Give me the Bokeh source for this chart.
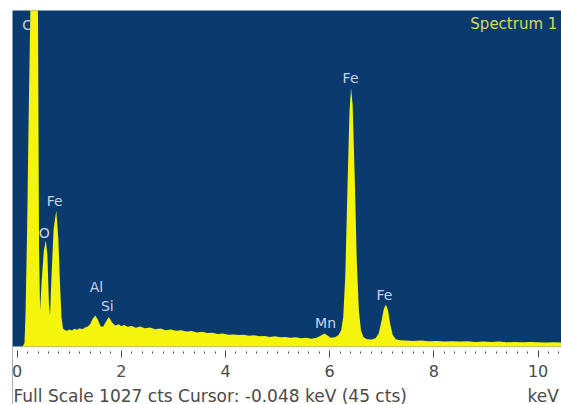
from bokeh.plotting import figure
from bokeh.models import FixedTicker, Label, Range1d, ColumnDataSource, BoxAnnotation
from bokeh.core.properties import value
from bokeh.embed import file_html
from bokeh.resources import INLINE

# Spectrum (keV, counts)
energy_kev = [
    -0.10, 0.00, 0.10, 0.14, 0.16, 0.19, 0.22, 0.25, 0.28, 0.32, 0.36, 0.40, 0.42, 0.44,
    0.47, 0.51, 0.55, 0.58, 0.61, 0.63, 0.66, 0.70, 0.75, 0.79, 0.82, 0.85, 0.88, 0.92,
    0.96, 1.00, 1.05, 1.10, 1.15, 1.20, 1.25, 1.30, 1.35, 1.40, 1.45, 1.50, 1.55, 1.60,
    1.65, 1.70, 1.76, 1.82, 1.88, 1.95, 2.00, 2.05, 2.12, 2.20, 2.28, 2.36, 2.45, 2.55,
    2.65, 2.75, 2.85, 2.95, 3.05, 3.15, 3.25, 3.35, 3.45, 3.55, 3.65, 3.75, 3.85, 3.95,
    4.05, 4.15, 4.25, 4.35, 4.45, 4.55, 4.65, 4.75, 4.85, 4.95, 5.05, 5.15, 5.25, 5.35,
    5.45, 5.55, 5.65, 5.75, 5.85, 5.90, 5.95, 6.02, 6.10, 6.17, 6.22, 6.26, 6.30, 6.34,
    6.38, 6.41, 6.44, 6.48, 6.52, 6.56, 6.60, 6.65, 6.72, 6.80, 6.88, 6.94, 6.99, 7.04,
    7.08, 7.12, 7.16, 7.21, 7.27, 7.35, 7.45, 7.60, 7.75, 7.90, 8.05, 8.20, 8.35, 8.50,
    8.65, 8.80, 8.95, 9.10, 9.25, 9.40, 9.55, 9.70, 9.85, 10.00, 10.15, 10.30, 10.45, 10.60,
]
counts = [
    0, 0, 0, 10, 100, 350, 700, 1000, 1400, 1600, 1400, 1000, 300, 110,
    200, 290, 325, 280, 130, 95, 220, 360, 416, 330, 200, 90, 55, 50,
    48, 52, 49, 54, 51, 56, 53, 58, 60, 68, 85, 95, 82, 62,
    60, 75, 90, 74, 64, 68, 62, 66, 60, 63, 57, 61, 56, 58,
    53, 55, 50, 52, 48, 50, 46, 47, 43, 45, 41, 42, 38, 40,
    36, 37, 35, 36, 33, 34, 31, 32, 29, 31, 28, 29, 27, 28,
    25, 27, 24, 27, 35, 40, 34, 27, 28, 35, 50, 90, 220, 480,
    720, 790, 740, 520, 260, 110, 50, 28, 22, 21, 25, 40, 75, 115,
    128, 110, 70, 35, 22, 19, 18, 17, 18, 16, 17, 15, 16, 15,
    16, 14, 15, 14, 15, 13, 14, 13, 14, 13, 12, 13, 12, 12,
]

# Element peak labels
peak_names = ["C", "O", "Fe", "Al", "Si", "Mn", "Fe", "Fe"]
peak_x = [0.19, 0.52, 0.72, 1.52, 1.73, 5.92, 6.40, 7.05]
peak_y = [984, 348, 446, 183, 125, 73, 822, 157]

x_ticks = [0, 2, 4, 6, 8, 10]
minor_ticks = [round(i * 0.2, 1) for i in range(0, 53)]

BG = "#0b3a6f"
YELLOW = "#f4f40c"
LABEL = "#c6d2e6"
GREY = "#4a4a4a"

# frame extends to the bottom of the canvas; the part below 0 cts is painted white
p = figure(width=561, height=404, output_backend="svg", toolbar_location=None,
           x_range=Range1d(-0.09, 10.45), y_range=Range1d(-177.3, 1027),
           y_axis_location=None,
           min_border_left=12, min_border_right=0, min_border_top=10, min_border_bottom=0,
           background_fill_color=BG, border_fill_color="white", outline_line_color=None)
p.grid.visible = False

p.add_layout(BoxAnnotation(top=0, fill_color="white", fill_alpha=1.0,
                           line_color=None, level="underlay"))

src = ColumnDataSource(dict(e=energy_kev, c=counts))
p.varea(x="e", y1=0, y2="c", source=src, fill_color=YELLOW)

lsrc = ColumnDataSource(dict(x=peak_x, y=peak_y, t=peak_names))
p.text(x="x", y="y", text="t", source=lsrc, text_color=LABEL,
       text_font=value("DejaVu Sans"), text_font_size="14px",
       text_align="center", text_baseline="middle")

p.add_layout(Label(x=8.70, y=986, text="Spectrum 1", text_color="#d4dc55",
                   text_font="DejaVu Sans", text_font_size="15px",
                   text_baseline="middle"))

ax = p.xaxis[0]
ax.fixed_location = 0
ax.ticker = FixedTicker(ticks=x_ticks, minor_ticks=minor_ticks)
ax.axis_line_color = None
ax.major_tick_in = -4
ax.major_tick_out = 11
ax.minor_tick_in = -5
ax.minor_tick_out = 7
ax.major_tick_line_color = GREY
ax.minor_tick_line_color = GREY
ax.major_label_text_font = "DejaVu Sans"
ax.major_label_text_font_size = "16px"
ax.major_label_text_color = GREY
ax.major_label_standoff = 8

p.add_layout(Label(x=1, y=9, x_units="screen", y_units="screen",
                   text="Full Scale 1027 cts  Cursor: -0.048 keV (45 cts)",
                   text_color=GREY, text_font="DejaVu Sans", text_font_size="17px",
                   text_baseline="alphabetic"))
p.add_layout(Label(x=515, y=9, x_units="screen", y_units="screen",
                   text="keV", text_color=GREY, text_font="DejaVu Sans",
                   text_font_size="17px", text_baseline="alphabetic"))

open("out.html", "w").write(file_html(p, INLINE))
